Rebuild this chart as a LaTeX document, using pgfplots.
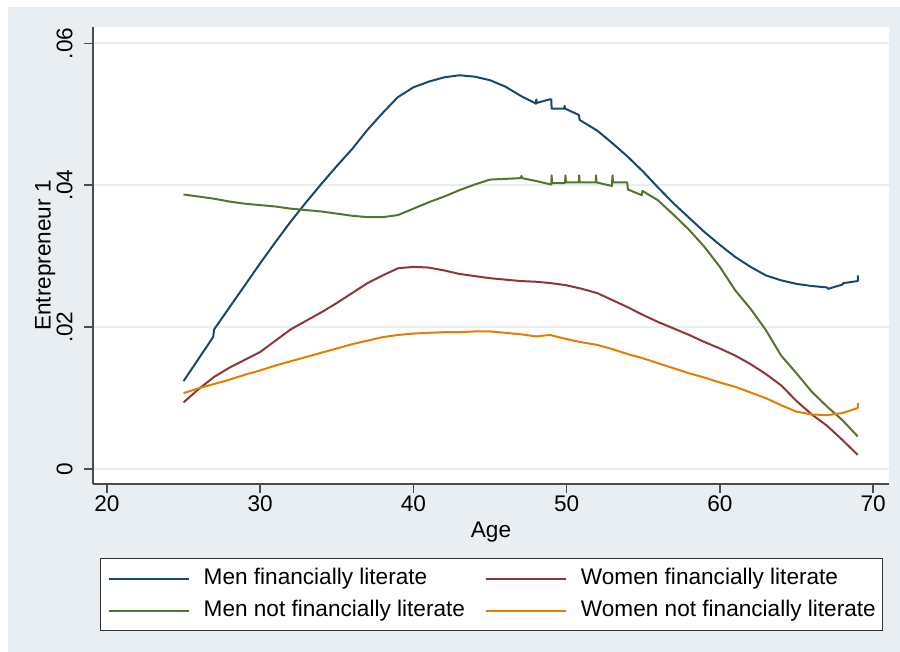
\documentclass[border=0pt]{standalone}
\usepackage{pgfplots}
\pgfplotsset{compat=1.18}
\usepackage{fontspec}
\setmainfont{Liberation Sans}
\definecolor{snavy}{RGB}{26,71,111}
\definecolor{smaroon}{RGB}{144,53,59}
\definecolor{sgreen}{RGB}{85,117,47}
\definecolor{sorange}{RGB}{227,126,0}
\definecolor{bgc}{RGB}{232,238,242}
\definecolor{gridc}{RGB}{232,238,240}
\newcommand{\fs}{\fontsize{11.3}{13}\selectfont}
\begin{document}
\begin{tikzpicture}
\path[use as bounding box, fill=white] (-46.5pt,-84pt) rectangle (403.5pt,242pt);
\fill[bgc] (-42.5pt,-84pt) rectangle (403.5pt,238.5pt);
\begin{axis}[
  at={(0pt,0pt)}, anchor=south west,
  width=398pt, height=228.5pt, scale only axis,
  xmin=19.09, xmax=71.04, ymin=-0.0021, ymax=0.0623,
  axis background/.style={fill=white},
  axis x line*=bottom, axis y line*=left,
  axis line style={-, color=black!70, line width=0.8pt},
  tick align=outside, major tick length=4.5pt,
  every tick/.style={color=black!70, line width=0.8pt},
  xtick={20,30,40,50,60,70},
  ytick={0,0.02,0.04,0.06},
  yticklabels={0,.02,.04,.06},
  scaled y ticks=false, scaled x ticks=false,
  /pgf/number format/assume math mode=true,
  xticklabel style={font=\fs, inner sep=1pt},
  yticklabel style={font=\fs, rotate=90, anchor=south, inner sep=5.5pt},
  ymajorgrids, major grid style={color=gridc, line width=1pt},
  xlabel={Age}, ylabel={Entrepreneur 1},
  every axis x label/.style={at={(axis description cs:0.5,-0.105)}, anchor=center, font=\fs},
  every axis y label/.style={at={(axis description cs:-0.06,0.5)}, rotate=90, anchor=center, font=\fs},
  legend columns=2,
  legend image code/.code={\draw[#1, line width=1pt] (0pt,0pt) -- (40pt,0pt);},
  legend style={at={(axis description cs:0.0088,-0.1619)}, anchor=north west,
    draw=black!80, line width=0.7pt, fill=white, font=\fs,
    inner xsep=3.5pt, inner ysep=2pt, row sep=0pt,
    nodes={inner xsep=0pt, inner ysep=2.5pt, text height=8.5pt, text depth=2.5pt},
    /tikz/every odd column/.append style={column sep=7pt},
    /tikz/every even column/.append style={column sep=10pt}},
  legend cell align=left,
  every axis plot/.append style={line width=1pt, line join=round},
]
\addplot[snavy] coordinates {
(25.0,0.0124) (26.93,0.0186) (27.0,0.0197) (28,0.0228) (29,0.0259) (30,0.0290) (31,0.0320) (32,0.0349)
(33,0.0376) (34,0.0402) (35,0.0427) (36,0.0451) (37,0.0478) (38,0.0502) (38.98,0.0524) (40,0.0538)
(41,0.0546) (42,0.0552) (43,0.0555) (44,0.0553) (45,0.0548) (46,0.0539) (47,0.0526) (48,0.0515)
(48.02,0.0521) (48.05,0.0516) (48.9,0.0521) (49.0,0.0521) (49.02,0.0508) (49.85,0.0508) (49.87,0.0512)
(49.9,0.0508) (50.8,0.0499) (50.85,0.0492) (52,0.0477) (53,0.0459) (54,0.0440) (55,0.0419) (56,0.0396)
(57,0.0374) (58,0.0354) (59,0.0334) (60,0.0316) (61,0.0299) (62,0.0285) (63,0.0273) (64,0.0266)
(65,0.0261) (66,0.0258) (67,0.0256) (67.05,0.0254) (68,0.0260) (68.05,0.0262) (69,0.0265) (69,0.0273)
};
\addlegendentry{Men financially literate}
\addplot[smaroon] coordinates {
(25,0.0094) (26,0.0113) (27,0.0130) (28,0.0143) (29,0.0154) (30,0.0165) (31,0.0181) (32,0.0197)
(33,0.0209) (34,0.0221) (35,0.0234) (36,0.0248) (37,0.0262) (38,0.0273) (39,0.0283) (40,0.0285)
(41,0.0284) (42,0.0280) (43,0.0275) (44,0.0272) (45,0.0269) (46,0.0267) (47,0.0265) (48,0.0264)
(49,0.0262) (50,0.0259) (51,0.0254) (52,0.0248) (53,0.0238) (54,0.0228) (55,0.0217) (56,0.0207)
(57,0.0198) (58,0.0189) (59,0.0179) (60,0.0170) (61,0.0160) (62,0.0148) (63,0.0134) (64,0.0118)
(65,0.0096) (66,0.0077) (67,0.0061) (68,0.0041) (69,0.0020)
};
\addlegendentry{Women financially literate}
\addplot[sgreen] coordinates {
(25,0.0387) (26,0.0384) (27,0.0381) (28,0.0377) (29,0.0374) (30,0.0372) (31,0.0370) (32,0.0367)
(33,0.0365) (34,0.0363) (35,0.0360) (36,0.0357) (37,0.0355) (38,0.0355) (39,0.0358) (40,0.0367)
(41,0.0376) (42,0.0384) (43,0.0393) (44,0.0401) (45,0.0408) (46,0.0409) (47,0.0410) (47.05,0.0413)
(47.1,0.0410) (48,0.0406) (49,0.0401) (49.02,0.0414) (49.05,0.0403) (49.9,0.0403) (49.92,0.0414)
(49.95,0.0404) (50.8,0.0404) (50.82,0.0414) (50.85,0.0404) (51.9,0.0404) (51.92,0.0414) (51.95,0.0404)
(52.95,0.0399) (53.0,0.0414) (53.02,0.0404) (53.95,0.0404) (54.0,0.0394) (54.9,0.0386) (54.95,0.0392)
(55.95,0.0379) (57,0.0358) (58,0.0337) (59,0.0313) (60,0.0285) (61,0.0252) (62,0.0226) (63,0.0196)
(64,0.0160) (65,0.0135) (66,0.0109) (67,0.0088) (68,0.0069) (69,0.0046)
};
\addlegendentry{Men not financially literate}
\addplot[sorange] coordinates {
(25,0.0107) (26,0.0114) (27,0.0120) (28,0.0126) (29,0.0133) (30,0.0139) (31,0.0146) (32,0.0152)
(33,0.0158) (34,0.0164) (35,0.0170) (36,0.0176) (37,0.0181) (38,0.0186) (39,0.0189) (40,0.0191)
(41,0.0192) (42,0.0193) (43,0.0193) (44,0.0194) (45,0.0194) (46,0.0192) (47,0.0190) (48,0.0187)
(48.9,0.0189) (49.85,0.0184) (50.9,0.0179) (52,0.0175) (53,0.0169) (54,0.0162) (55,0.0156) (56,0.0149)
(57,0.0142) (58,0.0135) (59,0.0129) (60,0.0122) (61,0.0116) (62,0.0108) (63,0.0100) (64,0.0090)
(65,0.0081) (66,0.0077) (67,0.0076) (68,0.0079) (69,0.0086) (69,0.0093)
};
\addlegendentry{Women not financially literate}
\end{axis}
\end{tikzpicture}
\end{document}
